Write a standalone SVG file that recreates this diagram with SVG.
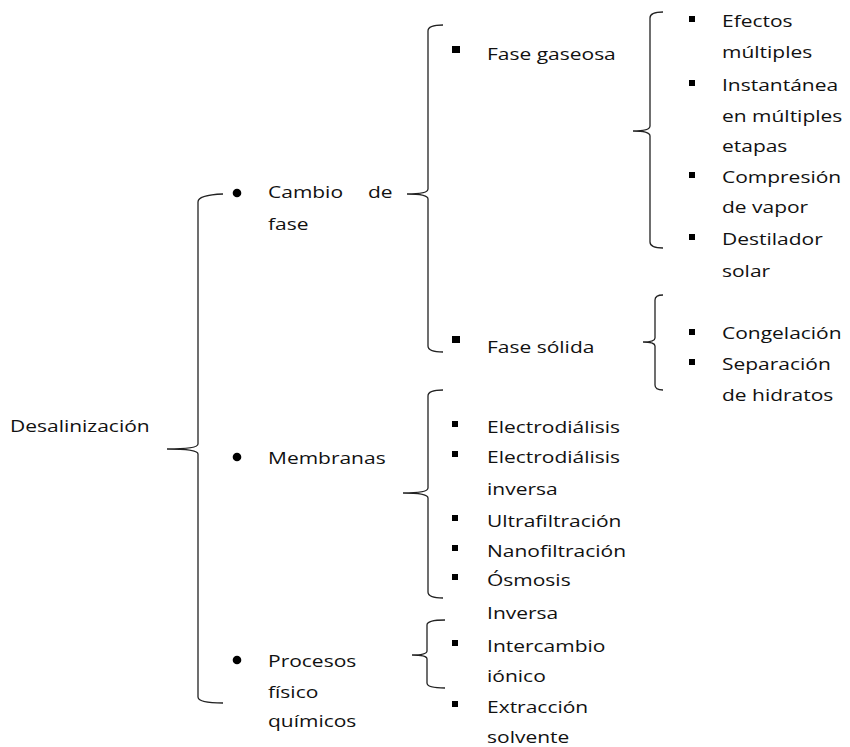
<svg xmlns="http://www.w3.org/2000/svg" width="850" height="747" viewBox="0 0 850 747">
<style>
text { font-family: "Open Sans", "Liberation Sans", sans-serif; font-size: 17.2px; fill: #111; }
.sx { transform: scale(1.22, 1); }
.brace { fill: none; stroke: #222; stroke-width: 1.3; }
.dot { fill: #000; }
</style>
<rect width="850" height="747" fill="#fff"/>
<g id="connectors">
  <path class="brace" d="M223,194 Q198,195 198,202 L198,444 Q198,449 167,449 Q198,449 198,454 L198,697 Q198,703 223,703"/>
  <path class="brace" d="M443,25 Q428,25 428,31 L428,189 Q428,194 407,194 Q428,194 428,199 L428,346 Q428,352 443,352"/>
  <path class="brace" d="M663,12 Q650,12 650,18 L650,126 Q650,131 633,131 Q650,131 650,136 L650,242 Q650,248 663,248"/>
  <path class="brace" d="M663,295 Q655,295 655,300 L655,338 Q655,342 643,342 Q655,342 655,346 L655,385 Q655,390 663,390"/>
  <path class="brace" d="M443,390 Q428,390 428,396 L428,488 Q428,493 403,493 Q428,493 428,498 L428,592 Q428,598 443,598"/>
  <path class="brace" d="M445,620 Q427,620 427,625 L427,651 Q427,655 412,655 Q427,655 427,659 L427,683 Q427,688 445,688"/>
</g>
<g id="n-desalinizacion">
  <text class="sx" x="8.2" y="432">Desalinización</text>
</g>
<g id="n-cambio">
  <circle class="dot" cx="237" cy="193" r="4.3"/>
  <text class="sx" x="219.7" y="198">Cambio</text>
  <text class="sx" x="301.6" y="198">de</text>
  <text class="sx" x="219.7" y="230">fase</text>
</g>
<g id="n-membranas">
  <circle class="dot" cx="237" cy="457" r="4.3"/>
  <text class="sx" x="219.7" y="464">Membranas</text>
</g>
<g id="n-procesos">
  <circle class="dot" cx="237" cy="660" r="4.3"/>
  <text class="sx" x="219.7" y="667">Procesos</text>
  <text class="sx" x="219.7" y="698">físico</text>
  <text class="sx" x="219.7" y="727">químicos</text>
</g>
<g id="n-gaseosa">
  <rect class="dot" x="452" y="46" width="8" height="7"/>
  <text class="sx" x="399.2" y="60">Fase gaseosa</text>
</g>
<g id="n-solida">
  <rect class="dot" x="452" y="336" width="8" height="7"/>
  <text class="sx" x="399.2" y="353">Fase sólida</text>
</g>
<g id="n-gaseosa-items">
  <rect class="dot" x="689" y="16" width="6" height="6"/>
  <text class="sx" x="591.8" y="27">Efectos</text>
  <text class="sx" x="591.8" y="58">múltiples</text>
  <rect class="dot" x="689" y="80" width="6" height="6"/>
  <text class="sx" x="591.8" y="91">Instantánea</text>
  <text class="sx" x="591.8" y="122">en múltiples</text>
  <text class="sx" x="591.8" y="152">etapas</text>
  <rect class="dot" x="689" y="172" width="6" height="6"/>
  <text class="sx" x="591.8" y="183">Compresión</text>
  <text class="sx" x="591.8" y="213">de vapor</text>
  <rect class="dot" x="689" y="234" width="6" height="6"/>
  <text class="sx" x="591.8" y="245">Destilador</text>
  <text class="sx" x="591.8" y="277">solar</text>
</g>
<g id="n-solida-items">
  <rect class="dot" x="689" y="329" width="6" height="6"/>
  <text class="sx" x="591.8" y="339">Congelación</text>
  <rect class="dot" x="689" y="359" width="6" height="6"/>
  <text class="sx" x="591.8" y="370">Separación</text>
  <text class="sx" x="591.8" y="401">de hidratos</text>
</g>
<g id="n-membranas-items">
  <rect class="dot" x="452" y="421" width="6" height="6"/>
  <text class="sx" x="399.2" y="433">Electrodiálisis</text>
  <rect class="dot" x="452" y="451" width="6" height="6"/>
  <text class="sx" x="399.2" y="463">Electrodiálisis</text>
  <text class="sx" x="399.2" y="495">inversa</text>
  <rect class="dot" x="452" y="515" width="6" height="6"/>
  <text class="sx" x="399.2" y="527">Ultrafiltración</text>
  <rect class="dot" x="452" y="545" width="6" height="6"/>
  <text class="sx" x="399.2" y="557">Nanofiltración</text>
  <rect class="dot" x="452" y="574" width="6" height="6"/>
  <text class="sx" x="399.2" y="586">Ósmosis</text>
  <text class="sx" x="399.2" y="619">Inversa</text>
</g>
<g id="n-procesos-items">
  <rect class="dot" x="452" y="640" width="6" height="6"/>
  <text class="sx" x="399.2" y="652">Intercambio</text>
  <text class="sx" x="399.2" y="682">iónico</text>
  <rect class="dot" x="452" y="701" width="6" height="6"/>
  <text class="sx" x="399.2" y="713">Extracción</text>
  <text class="sx" x="399.2" y="743">solvente</text>
</g>
</svg>
